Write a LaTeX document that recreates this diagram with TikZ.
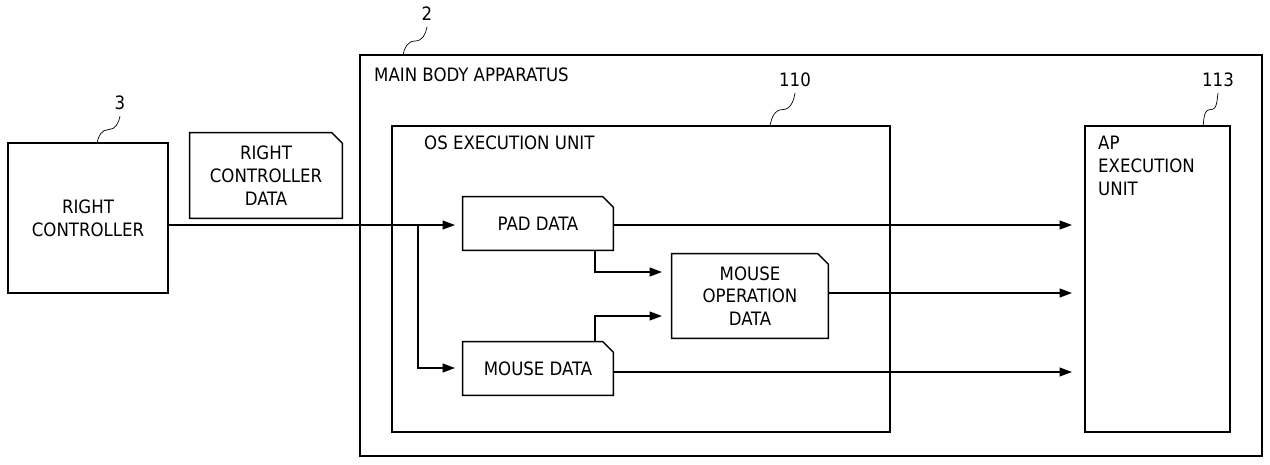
\documentclass[tikz,border=0pt]{standalone}
\usepackage{fontspec}
\setmainfont{DejaVu Sans Condensed}
\usetikzlibrary{arrows.meta,calc}
\begin{document}
\begin{tikzpicture}[x=0.02cm,y=-0.02cm,font=\fontsize{10.5}{13}\selectfont,
                    box/.style={draw,thick,inner sep=0pt},
                    doc/.style={inner sep=0pt,align=center},
                    flow/.style={thick,-{Triangle[length=7pt,width=5pt]}},
                    wave/.style={thin}]
  \useasboundingbox (0,0) rectangle (1270,464);
  % boxes
  \node[box,minimum width=3.2cm,minimum height=3cm,align=center] (rc) at (88,218) {RIGHT\\CONTROLLER};
  \node[box,minimum width=18.04cm,minimum height=8.02cm] (main) at (811,255.5) {};
  \node[anchor=north west] at (368,62) {MAIN BODY APPARATUS};
  \node[box,minimum width=9.96cm,minimum height=6.12cm] (os) at (641,279) {};
  \node[anchor=north west] at (418,130) {OS EXECUTION UNIT};
  \node[box,minimum width=2.9cm,minimum height=6.12cm] (ap) at (1157.5,279) {};
  \node[anchor=north west,align=left] at (1092,130) {AP\\EXECUTION\\UNIT};
  % data
  \node[doc,minimum width=3.04cm,minimum height=1.7cm] (rcd) at (266,175.5) {RIGHT\\CONTROLLER\\DATA};
  \node[doc,minimum width=3cm,minimum height=1.06cm] (pad) at (538,223.5) {PAD DATA};
  \node[doc,minimum width=3cm,minimum height=1.06cm] (mouse) at (538,368.5) {MOUSE DATA};
  \node[doc,minimum width=3.12cm,minimum height=1.68cm] (mop) at (750,296) {MOUSE\\OPERATION\\DATA};
  \foreach \n in {rcd,pad,mouse,mop}
    \draw[thick] (\n.south west) -- (\n.north west) -- ([xshift=-6pt]\n.north east)
      -- ([yshift=-6pt]\n.north east) -- (\n.south east) -- cycle;
  % reference numbers
  \node (l3) at (120,103) {3};
  \node (l2) at (427,14) {2};
  \node (l110) at (795,80) {110};
  \node (l113) at (1218,80) {113};
  \coordinate (w3) at (97,143);
  \coordinate (w2) at (403,55);
  \coordinate (w110) at (770,126);
  \coordinate (w113) at (1203,126);
  \foreach \a/\b in {w3/l3,w2/l2,w110/l110,w113/l113}
    \draw[wave] (\a) to[out=80,in=180] ($(\a)!0.5!(\b.south)$) to[out=0,in=-100] (\b.south);
  % connectors
  \coordinate (split) at (418,225);
  \coordinate (pad in) at (455,225);
  \coordinate (mouse in) at (455,368);
  \draw[flow] (rc.east |- pad in) -- (pad in);
  \draw[flow] (split) |- (mouse in);
  \coordinate (pad out) at (595,250);
  \coordinate (mouse out) at (595,342);
  \draw[flow] (pad out) |- (662,272);
  \draw[flow] (mouse out) |- (662,316);
  \draw[flow] (pad.east |- pad in) -- (1072,225);
  \draw[flow] (mop.east |- 0,293) -- (1072,293);
  \draw[flow] (mouse.east |- 0,372) -- (1072,372);
\end{tikzpicture}
\end{document}
